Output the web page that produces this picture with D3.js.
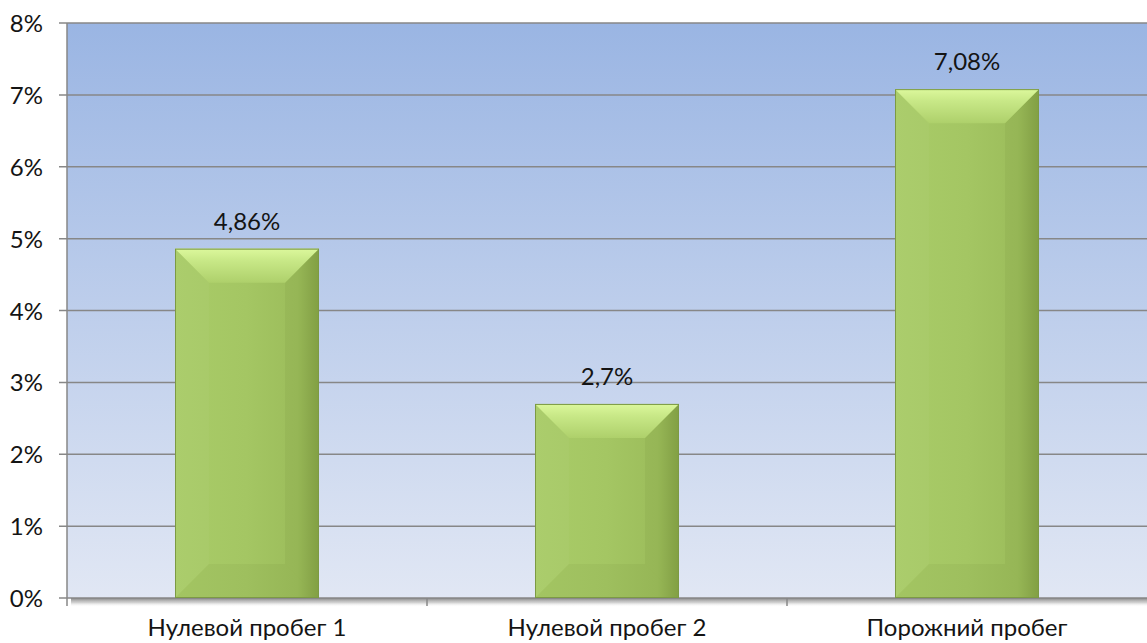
<!DOCTYPE html>
<html>
<head>
<meta charset="utf-8">
<script src="https://cdn.jsdelivr.net/npm/d3@7"></script>
<style>
  body { margin: 0; background: #fff; }
  text { font-family: Lato, "Noto Sans", sans-serif; fill: #141414; }
</style>
</head>
<body>
<div id="chart"></div>
<script>
// categories and values (percent)
var categories = ["Нулевой пробег 1", "Нулевой пробег 2", "Порожний пробег"];
var values = [4.86, 2.7, 7.08];
var valueLabels = ["4,86%", "2,7%", "7,08%"];
var yTicks = [0, 1, 2, 3, 4, 5, 6, 7, 8];

var W = 1147, H = 643;
var m = {left: 67, right: 0, top: 23, bottom: 45};

var svg = d3.select("#chart").append("svg")
    .attr("width", W)
    .attr("height", H);

var defs = svg.append("defs");

function grad(id, vertical, stops) {
  var g = defs.append("linearGradient").attr("id", id)
      .attr("x1", 0).attr("y1", 0)
      .attr("x2", vertical ? 0 : 1).attr("y2", vertical ? 1 : 0);
  stops.forEach(s => g.append("stop")
      .attr("offset", s[0]).attr("stop-color", s[1])
      .attr("stop-opacity", s[2] == null ? 1 : s[2]));
}

grad("bg", true, [[0, "#9ab5e3"], [1, "#e1e7f4"]]);
grad("body", false, [[0, "#a9cc68"], [0.5, "#a4c663"], [0.85, "#9cbd5b"], [1, "#86a447"]]);
grad("topface", true, [[0, "#dcf89c"], [0.35, "#c8e887"], [1, "#aed06b"]]);
grad("shadow", true, [[0, "#6f6f6f", 0.85], [0.5, "#a0a0a0", 0.5], [1, "#fff", 0]]);

var x = d3.scaleBand()
    .domain(categories)
    .range([m.left, W - m.right])
    .paddingInner(0.6)
    .paddingOuter(0.3);

var y = d3.scaleLinear()
    .domain([0, 8])
    .range([H - m.bottom, m.top]);

// shadow under plot area
svg.append("rect")
    .attr("x", m.left + 4).attr("y", y(0))
    .attr("width", W - m.left).attr("height", 9)
    .attr("fill", "url(#shadow)");

svg.append("rect")
    .attr("x", m.left).attr("y", y(8))
    .attr("width", W - m.right - m.left).attr("height", y(0) - y(8))
    .attr("fill", "url(#bg)");

// gridlines
svg.append("g")
    .selectAll("line")
    .data(yTicks)
    .join("line")
    .attr("x1", m.left - 8).attr("x2", W)
    .attr("y1", d => y(d)).attr("y2", d => y(d))
    .attr("stroke", "#878787")
    .attr("stroke-width", 1.5);

// left axis
svg.append("line")
    .attr("x1", m.left).attr("x2", m.left)
    .attr("y1", y(8)).attr("y2", y(0) + 8)
    .attr("stroke", "#878787").attr("stroke-width", 1.5);

// category boundary ticks
var bounds = d3.range(1, categories.length).map(i => m.left + i * x.step());
svg.append("g")
    .selectAll("line")
    .data(bounds)
    .join("line")
    .attr("x1", d => d).attr("x2", d => d)
    .attr("y1", y(0)).attr("y2", y(0) + 8)
    .attr("stroke", "#878787").attr("stroke-width", 1.5);

// y labels
svg.append("g")
    .selectAll("text")
    .data(yTicks)
    .join("text")
    .attr("x", 43)
    .attr("y", d => y(d) + 9)
    .attr("text-anchor", "end")
    .style("font-size", "24px")
    .text(d => d + "%");

// bevelled bars
var bev = 34;
var bars = svg.append("g")
    .selectAll("g")
    .data(values)
    .join("g");

function face(d, i, kind) {
  var x0 = x(categories[i]), x1 = x0 + x.bandwidth();
  var y0 = y(d), y1 = y(0);
  var b = Math.min(bev, (y1 - y0) / 2, x.bandwidth() / 2);
  var p;
  if (kind == "top") p = [[x0, y0], [x1, y0], [x1 - b, y0 + b], [x0 + b, y0 + b]];
  if (kind == "left") p = [[x0, y0], [x0 + b, y0 + b], [x0 + b, y1 - b], [x0, y1]];
  if (kind == "right") p = [[x1, y0], [x1 - b, y0 + b], [x1 - b, y1 - b], [x1, y1]];
  if (kind == "bottom") p = [[x0, y1], [x0 + b, y1 - b], [x1 - b, y1 - b], [x1, y1]];
  return "M" + p.join("L") + "Z";
}

bars.append("rect")
    .attr("x", (d, i) => x(categories[i]))
    .attr("y", d => y(d))
    .attr("width", x.bandwidth())
    .attr("height", d => y(0) - y(d))
    .attr("fill", "url(#body)");

var faces = [
  {k: "left", c: "#ffffff", o: 0.03},
  {k: "right", c: "#3d5a10", o: 0.06},
  {k: "bottom", c: "#3d5a10", o: 0.06},
  {k: "top", c: "url(#topface)", o: 1}
];

faces.forEach(function(f) {
  bars.append("path")
    .attr("d", (d, i) => face(d, i, f.k))
    .attr("fill", f.c)
    .attr("fill-opacity", f.o);
});

bars.append("rect")
    .attr("x", (d, i) => x(categories[i]) + 0.5)
    .attr("y", d => y(d) + 0.5)
    .attr("width", x.bandwidth() - 1)
    .attr("height", d => y(0) - y(d) - 1)
    .attr("fill", "none")
    .attr("stroke", "#7c9a44")
    .attr("stroke-width", 1);

// value labels
svg.append("g")
    .selectAll("text")
    .data(values)
    .join("text")
    .attr("x", (d, i) => x(categories[i]) + x.bandwidth() / 2)
    .attr("y", d => y(d) - 19)
    .attr("text-anchor", "middle")
    .style("font-size", "24px")
    .text((d, i) => valueLabels[i]);

// category labels
svg.append("g")
    .selectAll("text")
    .data(categories)
    .join("text")
    .attr("x", d => x(d) + x.bandwidth() / 2)
    .attr("y", 636)
    .attr("text-anchor", "middle")
    .style("font-size", "24px")
    .text(d => d);
</script>
</body>
</html>
